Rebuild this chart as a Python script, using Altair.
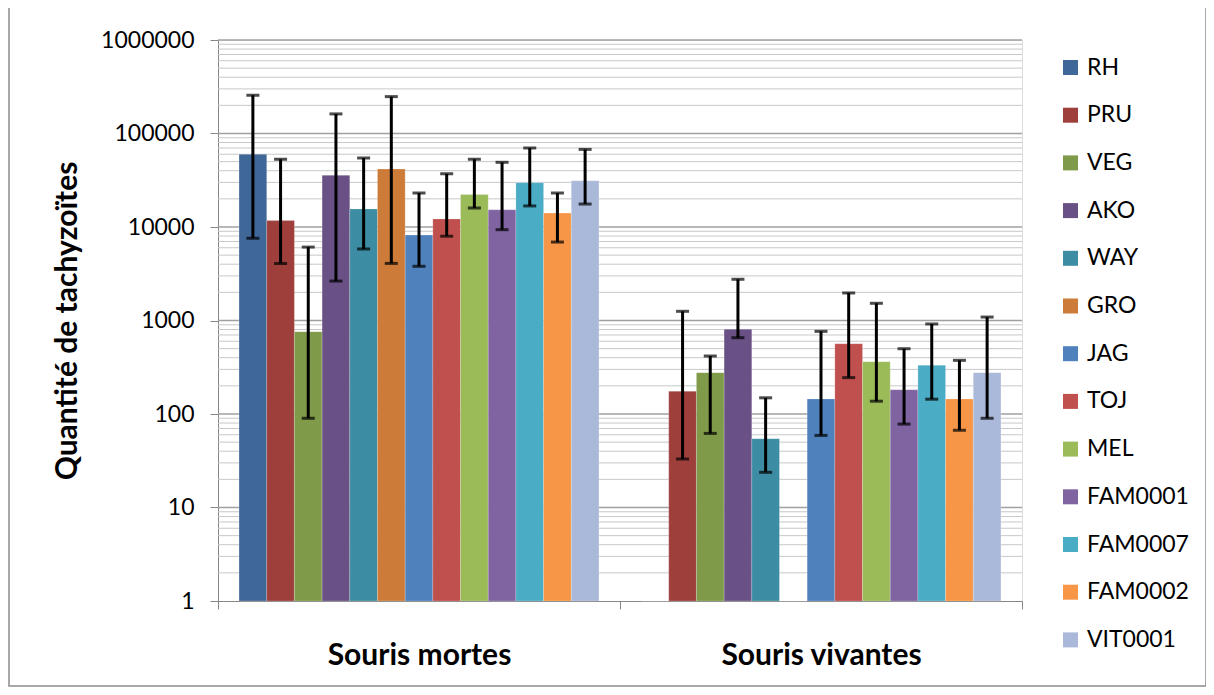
import altair as alt
import pandas as pd

groups = ["Souris mortes", "Souris vivantes"]
series = ["RH", "PRU", "VEG", "AKO", "WAY", "GRO", "JAG", "TOJ", "MEL",
          "FAM0001", "FAM0007", "FAM0002", "VIT0001"]
colors = ["#3F6797", "#9E3F3C", "#7F9A48", "#695185", "#3C8DA3", "#CC7B38",
          "#4F81BD", "#C0504D", "#9BBB59", "#8064A2", "#4BACC6", "#F79646", "#AAB9D9"]

mortes = [60000, 11700, 760, 35700, 15600, 41700, 8200, 12200, 22200, 15300, 29800, 14100, 31200]
mortes_hi = [257000, 53000, 6100, 162000, 54700, 248000, 23100, 37100, 53000, 49200, 70000, 23100, 67600]
mortes_lo = [7600, 4080, 90, 2640, 5820, 4080, 3800, 7970, 15950, 9360, 16800, 6900, 17600]

vivantes = [1, 175, 277, 805, 54.5, 1, 145, 565, 363, 182, 332, 145, 277]
vivantes_hi = [None, 1254, 417, 2760, 149, None, 766, 1970, 1528, 499, 918, 375, 1089]
vivantes_lo = [None, 33, 62, 655, 23.8, None, 59, 245, 137, 78, 144, 67, 90]

y_ticks = [1, 10, 100, 1000, 10000, 100000, 1000000]
minor_grid = [m * 10 ** k for k in range(6) for m in range(2, 10)]

rows = []
for s, v, hi, lo in zip(series, mortes, mortes_hi, mortes_lo):
    rows.append({"groupe": groups[0], "souche": s, "val": v, "hi": hi, "lo": lo})
for s, v, hi, lo in zip(series, vivantes, vivantes_hi, vivantes_lo):
    rows.append({"groupe": groups[1], "souche": s, "val": v, "hi": hi, "lo": lo})
df = pd.DataFrame(rows)
err = df.dropna(subset=["hi"])

FONT = "Lato"
W, H = 804, 561

yscale = alt.Scale(type="log", domain=[1, 1000000], nice=False)
xscale = alt.Scale(paddingInner=0, paddingOuter=0)
xoff_scale = alt.Scale(domain=series, paddingInner=0, paddingOuter=0.76)

y_axis = alt.Axis(values=y_ticks, format="d", grid=False,
                  title="Quantité de tachyzoïtes", titleFontSize=30,
                  titleFont=FONT, titleFontWeight="bold", titleColor="#000000",
                  titlePadding=18, labelFontSize=23, labelFont=FONT,
                  labelColor="#000000", labelPadding=16, tickSize=8,
                  tickColor="#868686", domainColor="#868686")

x_axis = alt.Axis(title=None, tickBand="extent", labelFontSize=30,
                  labelFont=FONT, labelFontWeight="bold", labelColor="#000000",
                  labelPadding=31, tickSize=8, tickColor="#868686",
                  domainColor="#868686", labelAngle=0, labelLimit=0)

frame = alt.Chart(pd.DataFrame({"a": [0]})).mark_rect(
    fill=None, stroke="#8C8C8C", strokeWidth=1.5, clip=False
).encode(x=alt.value(-209), x2=alt.value(988), y=alt.value(-34), y2=alt.value(646))

grid_minor = alt.Chart(pd.DataFrame({"g": minor_grid})).mark_rule(
    color="#C8C8C8", strokeWidth=1
).encode(y=alt.Y("g:Q", scale=yscale, axis=y_axis))

grid_major = alt.Chart(pd.DataFrame({"g": y_ticks[1:]})).mark_rule(
    color="#A0A0A0", strokeWidth=1.5
).encode(y=alt.Y("g:Q", scale=yscale, axis=y_axis))

bars = alt.Chart(df).mark_bar(stroke="#FFFFFF", strokeOpacity=0.35, strokeWidth=0.6).encode(
    x=alt.X("groupe:N", sort=groups, scale=xscale, axis=x_axis),
    xOffset=alt.XOffset("souche:N", sort=series, scale=xoff_scale),
    y=alt.Y("val:Q", scale=yscale, axis=y_axis, stack=None),
    color=alt.Color("souche:N", sort=series,
                    scale=alt.Scale(domain=series, range=colors),
                    legend=alt.Legend(title=None, orient="none", legendX=841, legendY=16,
                                      symbolType="square", symbolSize=225,
                                      symbolStrokeWidth=0, symbolOpacity=1,
                                      labelFontSize=23, labelFont=FONT,
                                      labelColor="#000000", rowPadding=23.7,
                                      labelOffset=5)),
)

rules = alt.Chart(err).mark_rule(color="#000000", strokeWidth=3).encode(
    x=alt.X("groupe:N", sort=groups, scale=xscale, axis=x_axis),
    xOffset=alt.XOffset("souche:N", sort=series, scale=xoff_scale),
    y=alt.Y("lo:Q", scale=yscale, axis=y_axis),
    y2="hi:Q",
)

caps_hi = alt.Chart(err).mark_tick(color="#000000", thickness=3, size=13, orient="horizontal").encode(
    x=alt.X("groupe:N", sort=groups, scale=xscale, axis=x_axis),
    xOffset=alt.XOffset("souche:N", sort=series, scale=xoff_scale),
    y=alt.Y("hi:Q", scale=yscale, axis=y_axis),
)
caps_lo = alt.Chart(err).mark_tick(color="#000000", thickness=3, size=13, orient="horizontal").encode(
    x=alt.X("groupe:N", sort=groups, scale=xscale, axis=x_axis),
    xOffset=alt.XOffset("souche:N", sort=series, scale=xoff_scale),
    y=alt.Y("lo:Q", scale=yscale, axis=y_axis),
)

chart = alt.layer(frame, grid_minor, grid_major, bars, rules, caps_hi, caps_lo).properties(
    width=W, height=H,
    autosize=alt.AutoSizeParams(type="none"),
    padding={"left": 210, "top": 32, "right": 184, "bottom": 86},
).configure_view(stroke=None).configure(background="#FFFFFF")

chart.save("out.html", embed_options={"renderer": "svg", "actions": False})
